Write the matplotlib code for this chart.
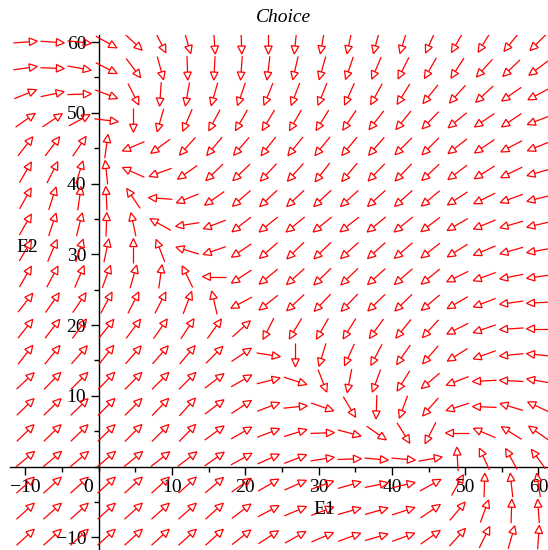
import numpy as np
import matplotlib.pyplot as plt
from matplotlib.collections import LineCollection
from matplotlib.patches import Polygon
from matplotlib.ticker import MultipleLocator

# grid of arrows (E1 across, E2 up)
E1 = np.linspace(-10, 60, 20)
E2 = np.linspace(-10, 60, 20)

# arrow direction in degrees, one row per E2 value (bottom row first)
angle_rows = [
    [42, 42, 42, 42, 42, 42, 42, 42, 38, 33, 29, 23, 20, 16, 20, 35, 48, 64, 74, 86],
    [42, 42, 42, 42, 42, 42, 42, 42, 37, 28, 23, 21, 16, 16, 18, 34, 50, 70, 88, 94],
    [42, 42, 42, 42, 42, 42, 42, 40, 35, 30, 24, 20, 16, 11, 13, 29, 60, 88, 96, 99],
    [40, 40, 40, 40, 39, 38, 37, 35, 29, 24, 21, 9, 2, -5, -5, 10, 93, 115, 119, 126],
    [44, 44, 44, 44, 45, 45, 46, 36, 30, 21, 17, 2, -15, -35, -58, -117, 180, 157, 148, 145],
    [44, 44, 44, 45, 45, 46, 48, 37, 33, 21, 6, -19, -59, -92, -110, -131, -162, 178, 163, 155],
    [43, 45, 45, 46, 45, 45, 45, 37, 30, 14, -18, -69, -101, -110, -122, -140, -159, -177, 177, 170],
    [52, 51, 49, 52, 49, 49, 50, 45, 34, -9, -90, -107, -114, -118, -125, -131, -148, -160, -174, 174],
    [52, 52, 54, 52, 53, 55, 57, 54, 42, -117, -121, -120, -122, -126, -129, -132, -153, -161, -176, 180],
    [52, 55, 56, 62, 63, 63, 69, 103, -152, -142, -137, -134, -134, -136, -136, -140, -150, -159, -172, -177],
    [60, 62, 67, 70, 74, 82, 116, 180, -147, -141, -138, -136, -136, -138, -139, -141, -154, -160, -169, -172],
    [60, 67, 72, 78, 90, 111, 163, -161, -146, -139, -136, -136, -138, -138, -139, -142, -148, -157, -164, -170],
    [60, 72, 76, 88, 102, 151, -171, -159, -142, -141, -141, -141, -142, -141, -141, -143, -150, -158, -164, -167],
    [61, 72, 82, 93, 124, 176, -158, -145, -139, -137, -137, -137, -138, -138, -138, -140, -147, -154, -160, -166],
    [60, 63, 73, 96, 156, -160, -145, -136, -136, -133, -132, -128, -130, -134, -134, -137, -143, -148, -154, -164],
    [52, 53, 56, 82, -157, -144, -132, -130, -131, -128, -129, -129, -130, -131, -135, -135, -142, -146, -152, -158],
    [35, 34, 28, -7, -90, -106, -113, -118, -120, -121, -120, -122, -124, -128, -129, -134, -141, -146, -146, -159],
    [22, 12, 2, -21, -63, -94, -100, -106, -109, -112, -111, -112, -114, -119, -122, -129, -132, -137, -145, -152],
    [8, -2, -10, -27, -53, -75, -88, -93, -94, -97, -103, -106, -109, -113, -117, -120, -123, -132, -136, -143],
    [4, -4, -6, -29, -43, -63, -74, -86, -88, -90, -96, -100, -102, -105, -107, -114, -120, -122, -129, -135],
]

x_ticks = [-10, 10, 20, 30, 40, 50, 60]
y_ticks = [-10, 10, 20, 30, 40, 50, 60]

serif = ['Liberation Serif', 'DejaVu Serif']

fig = plt.figure(figsize=(5.48, 5.5), dpi=100)
ax = fig.add_axes([10 / 548, 0, 538 / 548, 515 / 550])
ax.set_xlim(-12.1, 61.3)
ax.set_ylim(-11.8, 61.0)

# pixels per data unit, so every arrow has the same on-screen length
sx = 538 / (61.3 + 12.1)
sy = 515 / (61.0 + 11.8)
L = 24.0     # arrow length, px
hl = 8.0     # head length, px
hw = 3.8     # head half width, px

ang = np.radians(np.array(angle_rows, dtype=float))
shafts = []
for j, y in enumerate(E2):
    for i, x in enumerate(E1):
        c, s = np.cos(ang[j, i]), np.sin(ang[j, i])
        tail = (x - L / 2 * c / sx, y - L / 2 * s / sy)
        tip = (x + L / 2 * c / sx, y + L / 2 * s / sy)
        base = (tip[0] - hl * c / sx, tip[1] - hl * s / sy)
        shafts.append([tail, base])
        p1 = (base[0] - hw * s / sx, base[1] + hw * c / sy)
        p2 = (base[0] + hw * s / sx, base[1] - hw * c / sy)
        ax.add_patch(Polygon([tip, p1, p2], closed=True, fill=False,
                             edgecolor='red', linewidth=0.9, zorder=3))
ax.add_collection(LineCollection(shafts, colors='red', linewidths=0.9, zorder=3))

# axes through the origin
for side in ['top', 'right']:
    ax.spines[side].set_visible(False)
ax.spines['left'].set_position('zero')
ax.spines['bottom'].set_position('zero')
ax.spines['left'].set_linewidth(1.0)
ax.spines['bottom'].set_linewidth(1.0)
ax.set_xticks(x_ticks)
ax.set_yticks(y_ticks)
ax.set_xticklabels(['\u2212' + str(-t) if t < 0 else str(t) for t in x_ticks], family=serif, fontsize=14)
ax.set_yticklabels(['\u2212' + str(-t) if t < 0 else str(t) for t in y_ticks], family=serif, fontsize=14)
ax.xaxis.set_minor_locator(MultipleLocator(5))
ax.yaxis.set_minor_locator(MultipleLocator(5))
ax.tick_params(which='major', length=6, width=1.0, pad=3)
ax.tick_params(which='minor', length=3.5, width=1.0)
ax.patch.set_alpha(0)

ax.text(-1.5, -2.9, '0', family=serif, fontsize=14, ha='center', va='center')
ax.text(30.8, -6.1, 'E1', family=serif, fontsize=14, ha='center', va='center')
ax.text(-9.8, 30.9, 'E2', family=serif, fontsize=14, ha='center', va='center')
fig.text(283 / 548, 1 - 17 / 550, 'Choice', family=serif, style='italic',
         fontsize=14, ha='center', va='center')

fig.savefig('out.png', dpi=100)
